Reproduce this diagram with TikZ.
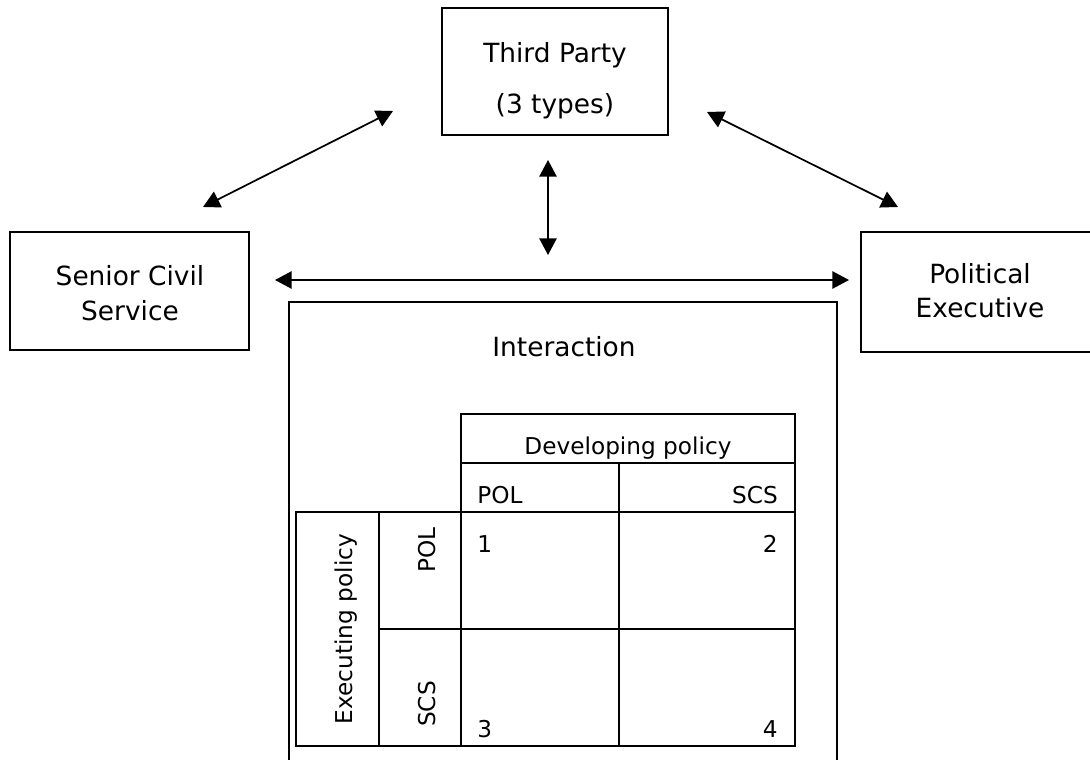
\documentclass[tikz,border=0pt]{standalone}
\usepackage{fontspec}
\setmainfont{DejaVu Sans}
\usetikzlibrary{arrows.meta,fit}
\begin{document}
\begin{tikzpicture}[x=0.75pt,y=-0.75pt,
  box/.style={draw, line width=1.4pt, inner sep=0pt, rectangle},
  big/.style={font=\fontsize{19.8}{24}\selectfont, inner sep=0pt},
  small/.style={font=\fontsize{17.4}{21}\selectfont, inner sep=0pt},
  link/.style={line width=1.3pt, {Triangle[length=12.5pt,width=13pt]}-{Triangle[length=12.5pt,width=13pt]}},
  gridline/.style={line width=1.8pt}]
\useasboundingbox (0,0) rectangle (1090,760);
\clip (0,0) rectangle (1090,760);

% boxes
\node[box, fit={(442,8) (668,135)}] (tp) {};
\node[box, fit={(10,232) (249,350)}] (scs) {};
\node[box, fit={(861,232) (1099,352)}] (pe) {};
\node[box, fit={(289,302) (837,800)}] (inter) {};

% box texts
\node[big, anchor=base] (tpa) at (555,62) {Third Party};
\node[big, anchor=base] (tpb) at (555,113) {(3 types)};
\node[big, anchor=base] (scsa) at (130,285) {Senior Civil};
\node[big, anchor=base] (scsb) at (130,320) {Service};
\node[big, anchor=base] (pea) at (980,283) {Political};
\node[big, anchor=base] (peb) at (980,317) {Executive};
\node[big, anchor=base] (intert) at (564,356) {Interaction};

% arrow ends
\coordinate (c1) at (393,111);
\coordinate (c2) at (203,207);
\coordinate (c3) at (707,112);
\coordinate (c4) at (898,207);
\coordinate (c5) at (548,160);
\coordinate (c6) at (548,255);
\coordinate (c7) at (275,280);
\coordinate (c8) at (849,280);
\draw[link] (c1) -- (c2);
\draw[link] (c3) -- (c4);
\draw[link] (c5) -- (c6);
\draw[link] (c7) -- (c8);

% table
\draw[gridline] (461,414) rectangle (795,463);
\draw[gridline] (461,463) rectangle (795,512);
\draw[gridline] (296,512) rectangle (795,746);
\draw[gridline] (619,463) -- (619,746);
\draw[gridline] (379,512) -- (379,746);
\draw[gridline] (461,512) -- (461,746);
\draw[gridline] (379,629) -- (795,629);

\node[small, anchor=base] (dev) at (628,454) {Developing policy};
\node[small, anchor=base west] (hpol) at (477,503) {POL};
\node[small, anchor=base east] (hscs) at (778,503) {SCS};
\node[small, anchor=base west] (n1) at (477,552) {1};
\node[small, anchor=base east] (n2) at (778,552) {2};
\node[small, anchor=base west] (n3) at (477,737) {3};
\node[small, anchor=base east] (n4) at (778,737) {4};
\node[small, anchor=base, rotate=90] (exe) at (352,629) {Executing policy};
\node[small, anchor=base east, rotate=90] (rpol) at (435,527) {POL};
\node[small, anchor=base west, rotate=90] (rscs) at (435,727) {SCS};
\end{tikzpicture}
\end{document}
